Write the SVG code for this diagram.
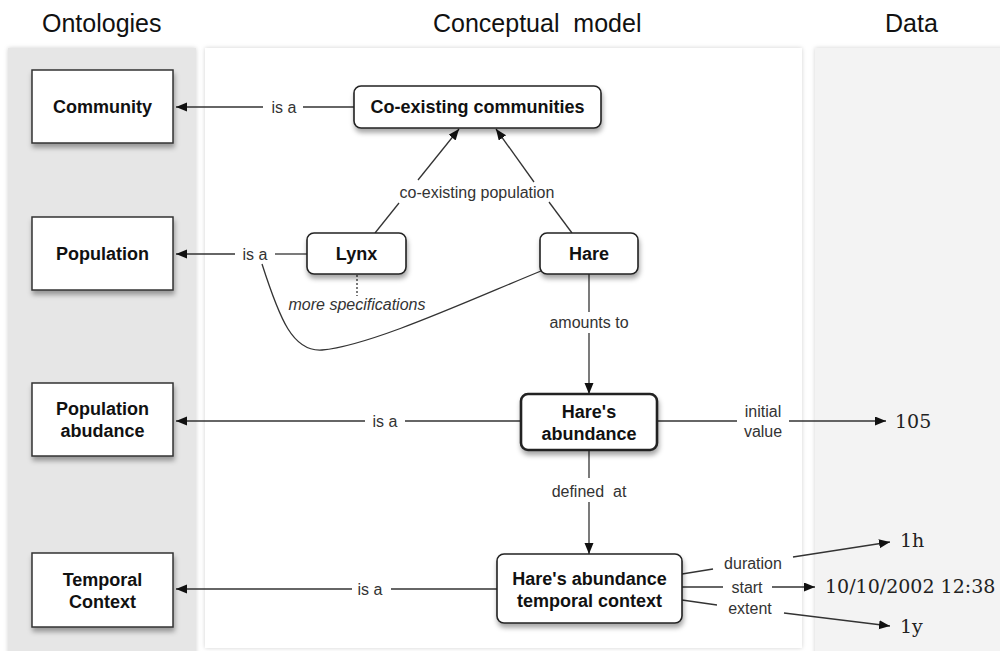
<svg xmlns="http://www.w3.org/2000/svg" width="1000" height="651" viewBox="0 0 1000 651">
<defs>
  <filter id="sh" x="-20%" y="-20%" width="140%" height="150%">
    <feDropShadow dx="1" dy="4" stdDeviation="2.5" flood-color="#000" flood-opacity="0.35"/>
  </filter>
  <filter id="psh" x="-5%" y="-5%" width="110%" height="110%">
    <feDropShadow dx="0" dy="0" stdDeviation="2" flood-color="#000" flood-opacity="0.18"/>
  </filter>
  <marker id="arr" markerUnits="userSpaceOnUse" markerWidth="12" markerHeight="10" refX="11" refY="4.5" orient="auto">
    <path d="M0,0 L11,4.5 L0,9 z" fill="#111"/>
  </marker>
</defs>
<style>
  .title{font-family:"Liberation Sans",Arial,sans-serif;font-size:25px;fill:#111}
  .onto{fill:#fff;stroke:#333;stroke-width:1.5}
  .node{fill:#fff;stroke:#222;stroke-width:1.6}
  .bold{font-family:"Liberation Sans",Arial,sans-serif;font-size:18px;font-weight:bold;fill:#111;text-anchor:middle}
  .lbl{font-family:"Liberation Sans",Arial,sans-serif;font-size:16px;fill:#333;text-anchor:middle}
  .it{font-style:italic}
  .data{font-family:"DejaVu Serif","Liberation Serif",serif;font-size:19px;fill:#222}
  .ln{fill:none;stroke:#333;stroke-width:1.3}
</style>
<rect width="1000" height="651" fill="#fff"/>
<!-- panels -->
<rect x="8" y="48" width="188" height="610" fill="#e6e6e6" filter="url(#psh)"/>
<rect x="205" y="48" width="597" height="600" fill="#fff" filter="url(#psh)"/>
<rect x="815" y="48" width="190" height="610" fill="#f3f3f3" filter="url(#psh)"/>
<text class="title" x="42" y="32">Ontologies</text>
<text class="title" x="433" y="32">Conceptual&#160; model</text>
<text class="title" x="885" y="32">Data</text>

<g id="connectors">
  <line class="ln" x1="263" y1="107" x2="176" y2="107" marker-end="url(#arr)"/>
  <line class="ln" x1="303" y1="107" x2="354" y2="107"/>
  <text class="lbl" x="284" y="113">is a</text>

  <line class="ln" x1="235" y1="254" x2="176" y2="254" marker-end="url(#arr)"/>
  <line class="ln" x1="275" y1="254" x2="307" y2="254"/>
  <text class="lbl" x="255" y="260">is a</text>

  <line class="ln" x1="365" y1="421" x2="176" y2="421" marker-end="url(#arr)"/>
  <line class="ln" x1="405" y1="421" x2="521" y2="421"/>
  <text class="lbl" x="385" y="427">is a</text>

  <line class="ln" x1="352" y1="589" x2="176" y2="589" marker-end="url(#arr)"/>
  <line class="ln" x1="391" y1="589" x2="497" y2="589"/>
  <text class="lbl" x="370" y="595">is a</text>

  <line class="ln" x1="375" y1="233" x2="399" y2="203"/>
  <line class="ln" x1="418" y1="180" x2="459" y2="129" marker-end="url(#arr)"/>
  <line class="ln" x1="572" y1="233" x2="549" y2="202"/>
  <line class="ln" x1="534" y1="182" x2="496" y2="129" marker-end="url(#arr)"/>
  <text class="lbl" x="477" y="198">co-existing population</text>

  <path class="ln" d="M262,264 C280,320 293,352 322,350 C370,346 470,300 541,271"/>

  <line x1="357" y1="275" x2="357" y2="296" stroke="#333" stroke-width="1.3" stroke-dasharray="2,2"/>
  <text class="lbl it" x="357" y="310">more specifications</text>

  <line class="ln" x1="589" y1="274" x2="589" y2="312"/>
  <line class="ln" x1="589" y1="333" x2="589" y2="394" marker-end="url(#arr)"/>
  <text class="lbl" x="589" y="328">amounts to</text>

  <line class="ln" x1="589" y1="450" x2="589" y2="478"/>
  <line class="ln" x1="589" y1="502" x2="589" y2="554" marker-end="url(#arr)"/>
  <text class="lbl" x="589" y="497">defined&#160; at</text>

  <line class="ln" x1="657" y1="421" x2="737" y2="421"/>
  <line class="ln" x1="789" y1="421" x2="886" y2="421" marker-end="url(#arr)"/>
  <text class="lbl" x="763" y="417">initial</text>
  <text class="lbl" x="763" y="437">value</text>

  <line class="ln" x1="682" y1="574" x2="713" y2="569"/>
  <line class="ln" x1="793" y1="557" x2="890" y2="542" marker-end="url(#arr)"/>
  <text class="lbl" x="753" y="569">duration</text>

  <line class="ln" x1="682" y1="587" x2="723" y2="587"/>
  <line class="ln" x1="772" y1="587" x2="815" y2="587" marker-end="url(#arr)"/>
  <text class="lbl" x="747" y="593">start</text>

  <line class="ln" x1="682" y1="600" x2="717" y2="605"/>
  <line class="ln" x1="784" y1="613" x2="890" y2="626" marker-end="url(#arr)"/>
  <text class="lbl" x="750" y="614">extent</text>
</g>

<g id="community">
  <rect class="onto" x="32" y="70" width="141" height="73" filter="url(#sh)"/>
  <text class="bold" x="102.5" y="113">Community</text>
</g>
<g id="population">
  <rect class="onto" x="32" y="217" width="141" height="73" filter="url(#sh)"/>
  <text class="bold" x="102.5" y="260">Population</text>
</g>
<g id="population-abundance">
  <rect class="onto" x="32" y="383" width="141" height="73" filter="url(#sh)"/>
  <text class="bold" x="102.5" y="415">Population</text>
  <text class="bold" x="102.5" y="437">abudance</text>
</g>
<g id="temporal-context">
  <rect class="onto" x="32" y="553" width="141" height="74" filter="url(#sh)"/>
  <text class="bold" x="102.5" y="586">Temporal</text>
  <text class="bold" x="102.5" y="608">Context</text>
</g>

<g id="coexisting">
  <rect class="node" x="354" y="86" width="247" height="42" rx="7" filter="url(#sh)"/>
  <text class="bold" x="477.5" y="113">Co-existing communities</text>
</g>
<g id="lynx">
  <rect class="node" x="307" y="233" width="99" height="41" rx="7" filter="url(#sh)"/>
  <text class="bold" x="356.5" y="260">Lynx</text>
</g>
<g id="hare">
  <rect class="node" x="540" y="233" width="98" height="41" rx="7" filter="url(#sh)"/>
  <text class="bold" x="589" y="260">Hare</text>
</g>
<g id="hares-abundance">
  <rect class="node" x="521" y="394" width="136" height="56" rx="7" style="stroke-width:2.6" filter="url(#sh)"/>
  <text class="bold" x="589" y="418">Hare's</text>
  <text class="bold" x="589" y="440">abundance</text>
</g>
<g id="hares-temporal-context">
  <rect class="node" x="497" y="554" width="185" height="69" rx="7" filter="url(#sh)"/>
  <text class="bold" x="589.5" y="585">Hare's abundance</text>
  <text class="bold" x="589.5" y="607">temporal context</text>
</g>

<g id="data">
  <text class="data" x="895" y="428">105</text>
  <text class="data" x="900" y="547">1h</text>
  <text class="data" x="825" y="593">10/10/2002 12:38</text>
  <text class="data" x="900" y="633">1y</text>
</g>
</svg>
